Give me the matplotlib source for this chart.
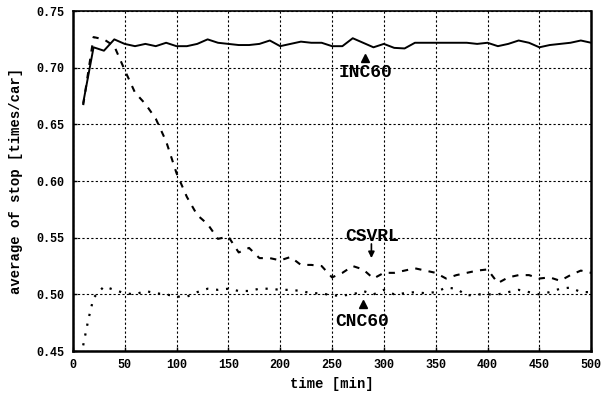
"""Average stop count over time for three control schemes."""

import matplotlib
matplotlib.use("Agg")
import matplotlib.pyplot as plt

# time axis (min) shared by INC60 and CSVRL
time_min = list(range(10, 501, 10))

inc60 = [
    0.669, 0.718, 0.715, 0.725, 0.721, 0.719, 0.721, 0.719, 0.722, 0.719,
    0.719, 0.721, 0.725, 0.722, 0.721, 0.720, 0.720, 0.721, 0.724, 0.719,
    0.721, 0.723, 0.722, 0.722, 0.719, 0.719, 0.726, 0.722, 0.718, 0.721,
    0.7175, 0.717, 0.722, 0.722, 0.722, 0.722, 0.722, 0.722, 0.721, 0.722,
    0.719, 0.721, 0.724, 0.722, 0.718, 0.720, 0.721, 0.722, 0.724, 0.722,
]

csvrl = [
    0.667, 0.727, 0.725, 0.719, 0.698, 0.678, 0.668, 0.655, 0.635, 0.607,
    0.586, 0.570, 0.562, 0.549, 0.551, 0.537, 0.541, 0.532, 0.532, 0.530,
    0.533, 0.526, 0.526, 0.525, 0.515, 0.519, 0.525, 0.522, 0.514, 0.519,
    0.519, 0.521, 0.523, 0.521, 0.519, 0.514, 0.517, 0.519, 0.521, 0.522,
    0.510, 0.515, 0.517, 0.517, 0.514, 0.515, 0.512, 0.517, 0.521, 0.519,
]

# CNC60 has an extra early sample during the initial rise
cnc60_time = [10, 15] + list(range(20, 501, 10))
cnc60 = [
    0.455, 0.478,
    0.497, 0.507, 0.504, 0.501, 0.500, 0.503, 0.501, 0.500, 0.498,
    0.498, 0.502, 0.505, 0.504, 0.505, 0.503, 0.503, 0.505, 0.505, 0.504,
    0.504, 0.503, 0.501, 0.501, 0.499, 0.499, 0.500, 0.503, 0.500, 0.504,
    0.500, 0.501, 0.502, 0.501, 0.502, 0.506, 0.505, 0.499, 0.500, 0.500,
    0.500, 0.502, 0.504, 0.502, 0.500, 0.502, 0.505, 0.506, 0.502, 0.502,
]

x_ticks = [0, 50, 100, 150, 200, 250, 300, 350, 400, 450, 500]
y_ticks = [0.45, 0.50, 0.55, 0.60, 0.65, 0.70, 0.75]

MONO = "Liberation Mono"

fig = plt.figure(figsize=(6.12, 3.94), dpi=100)
ax = fig.add_axes([0.119, 0.109, 0.847, 0.863])

ax.plot(time_min, inc60, color="black", linewidth=1.4, linestyle="-")
ax.plot(time_min, csvrl, color="black", linewidth=1.5, linestyle=(0, (3, 3.5)))
ax.plot(cnc60_time, cnc60, color="black", linewidth=1.6, linestyle=(0, (1, 3.5)))

ax.set_xlim(0, 500)
ax.set_ylim(0.45, 0.75)
ax.set_xticks(x_ticks)
ax.set_yticks(y_ticks)
ax.set_xticklabels([str(t) for t in x_ticks])
ax.set_yticklabels([f"{v:.2f}" for v in y_ticks])
ax.tick_params(direction="in", length=3, width=1, pad=6)
for lbl in ax.get_xticklabels() + ax.get_yticklabels():
    lbl.set_fontfamily(MONO)
    lbl.set_fontweight("bold")
    lbl.set_fontsize(8.5)

ax.grid(True, color="black", linestyle=(0, (2, 2)), linewidth=0.8)
for side in ["left", "bottom", "right"]:
    ax.spines[side].set_linewidth(1.8)
ax.spines["top"].set_linewidth(1.2)

ax.set_xlabel("time [min]", fontfamily=MONO, fontweight="bold", fontsize=10, labelpad=4)
ax.set_ylabel("average of stop [times/car]", fontfamily=MONO, fontweight="bold",
              fontsize=10, labelpad=10)

# series labels
ax.plot([282], [0.7085], marker="^", color="black", markersize=6)
ax.text(282, 0.6957, "INC60", ha="center", va="center", fontfamily=MONO,
        fontweight="bold", fontsize=13)

ax.text(288.5, 0.5514, "CSVRL", ha="center", va="center", fontfamily=MONO,
        fontweight="bold", fontsize=13)
ax.annotate("", xy=(288, 0.532), xytext=(288, 0.5445),
            arrowprops=dict(arrowstyle="-|>", color="black", lw=1.2,
                            mutation_scale=9, shrinkA=0, shrinkB=0))

ax.plot([280], [0.4914], marker="^", color="black", markersize=6)
ax.text(279, 0.4764, "CNC60", ha="center", va="center", fontfamily=MONO,
        fontweight="bold", fontsize=13)

fig.savefig("out.png", dpi=100)
plt.close(fig)
